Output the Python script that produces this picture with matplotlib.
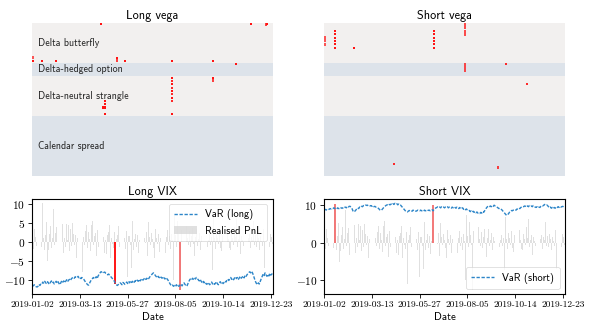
import numpy as np
import pandas as pd
import matplotlib
matplotlib.use("Agg")
import matplotlib.pyplot as plt

plt.rcParams["font.family"] = "cmss10"
plt.rcParams["mathtext.fontset"] = "cm"
plt.rcParams["axes.unicode_minus"] = False

# trading days (Eurex-like calendar)
holidays = ["2019-04-19", "2019-04-22", "2019-05-01",
            "2019-12-24", "2019-12-25", "2019-12-26"]
dates = pd.bdate_range("2019-01-02", "2019-12-30")
dates = dates[~dates.isin(pd.to_datetime(holidays))]

pnl = [
    8.9, -1.8, 3.5, 1.2, -1.0, 2.5, -1.9, 0.8, -0.6, 1.5,
    -1.4, 10.1, 0.9, -2.0, 1.7, 5.2, -5.1, -2.2, 2.0, 4.1,
    -1.6, 1.0, 8.7, -0.8, 2.4, 3.9, -3.2, 1.9, 5.8, -0.9,
    2.3, 7.8, 4.6, -2.8, 1.1, -1.2, 4.8, 0.6, 4.3, -2.3,
    3.4, -1.1, 4.9, 2.2, -0.7, 1.8, -4.2, 0.9, 2.6, 4.1,
    6.1, -1.0, 4.8, -7.8, 1.2, -0.8, 2.9, 4.5, -1.7, 2.6,
    0.7, -2.4, 4.4, 5.6, -0.9, 1.6, 2.3, -3.8, 3.0, -1.3,
    0.9, 2.1, -0.5, 3.2, -2.0, 1.4, -2.9, 0.6, -3.2, 1.8,
    2.5, 4.3, -4.1, 1.1, -0.6, -1.6, 2.7, -11.0, 0.8, 1.9,
    4.1, -1.2, 7.0, -3.5, 1.3, -5.6, 7.2, 0.9, -1.9, 2.8,
    -9.2, 1.5, 1.6, -0.8, -6.9, 5.5, -2.1, 0.7, 2.2, -1.4,
    1.8, -3.0, 0.5, 3.4, 9.9, -0.9, -1.7, 2.0, 1.1, -0.4,
    2.6, -3.6, 5.2, 1.4, -0.7, 2.3, 0.8, -1.5, -4.2, 3.3,
    1.0, -0.6, 2.1, -2.7, 0.9, 1.7, 5.6, -1.1, 2.4, 0.6,
    -2.9, 1.2, 3.0, -0.8, 1.5, -1.9, 2.2, 0.4, -10.0, 7.2,
    1.8, -1.3, 5.5, 2.0, -0.7, -12.5, 3.1, 4.6, -1.6, 1.9,
    0.7, -2.3, 4.1, 1.0, -0.9, 2.8, -1.4, 1.5, 3.6, -0.5,
    -3.7, 1.2, 3.5, -1.0, 0.8, 2.4, -2.0, 1.6, 0.3, 2.2,
    -4.5, 0.9, 1.7, 3.8, -1.2, 0.6, 2.0, -0.8, 1.3, -7.3,
    6.9, 0.9, -1.8, 2.5, 1.1, -0.6, 3.0, -1.5, -2.4, 1.9,
    0.5, 2.6, -1.1, 1.4, -0.9, 3.3, 0.7, -1.6, -2.0, 2.2,
    1.0, -0.7, 4.0, 1.3, 6.3, -1.2, 0.8, 2.1, -3.2, 1.5,
    0.4, -1.0, 2.7, 1.2, -0.5, 3.1, -1.8, 0.9, 2.0, -1.6,
    1.4, 0.6, 5.5, -0.8, 1.7, -1.3, 2.3, 0.9, -2.1, 1.6,
    0.3, -1.0, 3.4, -6.9, 1.1, 2.8, -2.0, 6.0, 0.7, -1.2,
    2.2, 1.4, -0.6,
]

var_long = [
    -11.3, -11.5, -11.2, -11.6, -11.7, -11.8, -11.6, -11.1, -11.4, -10.9,
    -11.0, -10.5, -10.8, -10.3, -10.7, -10.9, -10.4, -10.8, -11.1, -10.6,
    -10.2, -10.7, -10.5, -11.0, -10.6, -10.3, -10.8, -10.4, -10.9, -11.2,
    -10.6, -10.1, -10.5, -10.2, -10.7, -10.3, -9.9, -10.4, -10.0, -9.8,
    -10.1, -9.6, -9.4, -9.2, -9.5, -9.1, -9.4, -9.3, -9.0, -9.4,
    -9.2, -9.6, -9.3, -9.5, -9.8, -10.2, -10.6, -10.9, -11.2, -11.3,
    -10.8, -10.3, -9.9, -9.6, -9.3, -9.7, -9.4, -9.1, -9.6, -8.9,
    -8.5, -8.1, -7.8, -7.9, -7.7, -8.0, -7.9, -8.2, -8.3, -8.6,
    -8.4, -8.7, -9.0, -9.3, -9.6, -9.9, -10.3, -10.8, -11.1, -11.4,
    -11.2, -11.0, -10.7, -10.9, -11.2, -10.6, -10.8, -11.1, -10.7, -10.5,
    -10.9, -10.4, -10.7, -10.2, -10.6, -10.3, -10.8, -10.5, -10.1, -10.4,
    -10.0, -10.3, -9.8, -10.2, -9.9, -9.6, -10.0, -9.7, -9.4, -9.8,
    -9.5, -9.9, -9.6, -9.2, -8.9, -8.6, -8.3, -8.1, -8.4, -8.8,
    -9.1, -9.4, -9.0, -9.3, -9.6, -9.2, -9.5, -9.1, -9.4, -9.7,
    -9.3, -9.6, -9.9, -10.3, -10.8, -11.2, -11.5, -11.3, -11.6, -11.4,
    -11.7, -11.2, -11.5, -11.8, -11.3, -11.6, -11.2, -11.5, -11.0, -10.7,
    -11.1, -11.4, -11.6, -11.0, -10.4, -9.9, -9.6, -9.9, -9.5, -9.8,
    -9.4, -9.7, -9.3, -9.6, -9.9, -10.2, -9.8, -10.3, -10.6, -10.2,
    -10.7, -10.4, -10.9, -11.1, -10.6, -10.9, -11.2, -10.8, -10.5, -11.0,
    -10.7, -11.1, -10.8, -10.4, -10.9, -11.2, -10.7, -10.4, -10.8, -10.5,
    -10.9, -10.6, -10.2, -10.5, -10.0, -9.7, -10.1, -9.6, -9.3, -9.8,
    -9.5, -9.9, -9.4, -9.1, -9.6, -9.3, -9.8, -9.4, -9.0, -9.5,
    -9.2, -8.9, -9.4, -8.8, -9.1, -8.6, -8.3, -8.0, -7.8, -8.1,
    -7.7, -8.2, -8.9, -9.7, -10.4, -10.9, -11.2, -10.7, -11.0, -10.3,
    -9.6, -9.0, -8.4, -8.8, -8.1, -8.6, -9.0, -8.5, -8.9, -8.2,
    -8.7, -8.4, -8.3,
]

var_short = [
    8.7, 8.8, 8.6, 8.9, 8.8, 8.8, 9.0, 8.9, 9.1, 9.0,
    9.2, 9.0, 9.1, 8.9, 9.2, 9.0, 9.0, 9.3, 9.1, 9.2,
    9.0, 9.3, 9.4, 9.2, 9.5, 9.3, 9.6, 9.6, 9.4, 9.0,
    8.4, 8.1, 8.3, 8.6, 8.9, 9.2, 9.0, 9.4, 9.3, 9.6,
    9.5, 9.8, 9.7, 9.9, 9.9, 9.8, 10.0, 9.9, 9.7, 9.8,
    9.6, 9.8, 9.5, 9.6, 9.4, 9.4, 9.2, 9.0, 8.7, 8.5,
    8.6, 8.9, 9.2, 9.5, 9.7, 9.9, 10.0, 9.8, 10.1, 10.0,
    10.2, 10.0, 10.3, 10.1, 10.4, 10.2, 10.3, 10.0, 10.2, 9.9,
    9.9, 9.6, 9.3, 9.0, 8.7, 8.4, 8.2, 8.1, 8.3, 8.5,
    8.4, 8.5, 8.3, 8.6, 8.4, 8.5, 8.3, 8.4, 8.6, 8.5,
    8.4, 8.6, 8.4, 8.5, 8.3, 8.6, 8.4, 8.5, 8.7, 8.5,
    8.6, 8.4, 8.5, 8.7, 8.4, 8.8, 9.0, 9.2, 9.3, 9.5,
    9.3, 9.4, 9.2, 9.5, 9.3, 9.4, 9.2, 9.4, 9.3, 9.5,
    9.2, 9.4, 9.3, 9.1, 9.4, 9.2, 9.5, 9.3, 9.1, 9.4,
    9.2, 9.0, 9.3, 8.9, 9.1, 9.2, 8.8, 9.0, 8.7, 8.9,
    8.6, 8.4, 8.5, 8.2, 8.4, 8.1, 8.3, 8.0, 8.2, 7.9,
    8.1, 7.8, 7.9, 7.7, 8.0, 7.8, 8.2, 8.0, 8.4, 8.8,
    9.2, 9.5, 9.6, 9.4, 9.7, 9.5, 9.8, 9.6, 9.9, 9.7,
    9.6, 9.4, 9.2, 9.0, 9.1, 8.9, 8.7, 8.4, 8.1, 7.8,
    7.5, 7.2, 7.4, 7.6, 8.0, 8.3, 8.5, 8.4, 8.6, 8.5,
    8.7, 8.6, 8.9, 8.8, 9.1, 9.0, 9.3, 9.4, 9.6, 9.5,
    9.7, 9.6, 9.4, 9.7, 9.5, 9.8, 9.6, 9.7, 9.5, 9.8,
    9.6, 9.4, 9.3, 9.5, 9.2, 9.4, 9.3, 9.6, 9.8, 9.7,
    9.9, 10.1, 9.9, 10.0, 9.8, 9.5, 9.2, 9.4, 9.1, 9.3,
    9.0, 9.3, 9.1, 9.4, 9.2, 9.5, 9.3, 9.6, 9.4, 9.5,
    9.6, 9.4, 9.5,
]

# breach map per strategy instrument (row) and trading day (column)
groups = ["Delta butterfly", "Delta-hedged option",
          "Delta-neutral strangle", "Calendar spread"]
group_rows = [12, 4, 12, 18]

long_cols = [72, 230, 245, 246, 0, 0, 10, 24, 89, 89, 97, 147, 190, 214,
             147, 147, 147, 147, 147, 147, 147, 147, 147, 190, 190,
             76, 76, 76, 76, 74]
long_rows = [0, 0, 0, 0, 10, 11, 11, 11, 10, 11, 11, 11, 11, 12,
             16, 17, 18, 19, 20, 21, 22, 23, 27, 16, 17,
             23, 24, 25, 27, 25]
long_mag = [1.0, 1.0, 0.8, 1.0, 0.7, 1.0, 1.0, 1.0, 1.0, 0.8, 1.0, 1.0, 1.0, 1.0,
            1.0, 0.9, 1.0, 0.9, 1.0, 0.9, 1.0, 0.9, 1.0, 1.0, 0.8,
            1.0, 1.0, 1.0, 1.0, 1.0]

short_cols = [0, 0, 0, 11, 11, 11, 11, 11, 11, 31, 115, 115, 115, 115, 115, 115,
              148, 148, 148, 148, 148, 148, 148, 191, 213, 73, 182]
short_rows = [4, 5, 6, 2, 3, 4, 5, 6, 7, 7, 2, 3, 4, 5, 6, 7,
              0, 1, 2, 3, 12, 13, 14, 12, 18, 42, 43]
short_mag = [0.7, 0.7, 0.7, 1.0, 1.0, 1.0, 1.0, 1.0, 1.0, 1.0, 1.0, 1.0, 1.0, 1.0, 1.0, 1.0,
             0.75, 0.75, 0.75, 0.75, 0.75, 0.75, 0.75, 0.9, 0.9, 0.9, 0.8]

band_colors = ["#f2f0ef", "#dde3ea"]
breach_red = "#ff1414"

n = len(dates)
days = np.arange(n)
pnl = np.array(pnl)
var_long = np.array(var_long)
var_short = np.array(var_short)


def draw_heatmap(ax, cols, rows, mags, title, labels=True):
    r = 0
    for g, size in enumerate(group_rows):
        ax.axhspan(r, r + size, color=band_colors[g % 2], lw=0)
        if labels:
            ax.text(6, r + size / 2, groups[g], fontsize=7.2, va="center",
                    ha="left", color="#222222")
        r += size
    for c, rr, m in zip(cols, rows, mags):
        # lighter cells are drawn as full-height blocks, strong ones as dots
        h = 0.62 if m > 0.85 else 0.9
        ax.bar(c + 0.5, h, bottom=rr + (1 - h) / 2, width=2.1,
               color=breach_red, alpha=m, lw=0)
    ax.set_xlim(0, n)
    ax.set_ylim(sum(group_rows), 0)
    ax.set_axis_off()
    ax.set_title(title, fontsize=8.8, pad=3)


def draw_var(ax, var, label, side, legend_loc):
    ax.bar(days, pnl, width=0.8, color="lightgray", alpha=0.7,
           label="Realised PnL" if side == "long" else None)
    if side == "long":
        hit = pnl < var
    else:
        hit = pnl > var
    for d in days[hit]:
        excess = abs(pnl[d] - var[d])
        if excess < 0.5:
            ax.bar(d, pnl[d], width=2.0, color="#ff1a1a", lw=0)
        else:
            ax.bar(d, pnl[d], width=2.6, color="#f26d6d", alpha=0.9, lw=0)
    ax.plot(days, var, color="#2c85c8", lw=1.0, ls="--",
            dashes=(2.4, 1.2), label=label)
    ax.set_xlim(0, n - 1)
    ticks = list(range(0, n, 50))
    ax.set_xticks(ticks)
    ax.set_xticklabels([dates[i].strftime("%Y-%m-%d") for i in ticks],
                       fontfamily="cmr10", fontsize=6.8)
    ax.set_xlabel("Date", fontsize=7.8, labelpad=2)
    ax.tick_params(length=3, width=0.6, pad=2)
    for s in ax.spines.values():
        s.set_linewidth(0.8)
    leg = ax.legend(loc=legend_loc, fontsize=7.5, frameon=True,
                    handlelength=2.2, borderpad=0.5)
    leg.get_frame().set_linewidth(0.5)


fig = plt.figure(figsize=(5.94, 3.30), dpi=100)

ax1 = fig.add_axes([0.0544, 0.4676, 0.4047, 0.4636])
ax2 = fig.add_axes([0.546, 0.4676, 0.4047, 0.4636])
ax3 = fig.add_axes([0.0544, 0.109, 0.4047, 0.288])
ax4 = fig.add_axes([0.546, 0.109, 0.4047, 0.288])

draw_heatmap(ax1, long_cols, long_rows, long_mag, "Long vega")
draw_heatmap(ax2, short_cols, short_rows, short_mag, "Short vega", labels=False)

draw_var(ax3, var_long, "VaR (long)", "long", "upper right")
ax3.set_title("Long VIX", fontsize=8.8, pad=3)
ax3.set_yticks([-10, -5, 0, 5, 10])
ax3.set_yticklabels([r"$%d$" % v for v in [-10, -5, 0, 5, 10]], fontsize=8.2)

draw_var(ax4, var_short, "VaR (short)", "short", "lower right")
ax4.set_title("Short VIX", fontsize=8.8, pad=3)
ax4.set_yticks([-10, 0, 10])
ax4.set_yticklabels([r"$%d$" % v for v in [-10, 0, 10]], fontsize=8.2)

fig.savefig("out.png", dpi=100)
